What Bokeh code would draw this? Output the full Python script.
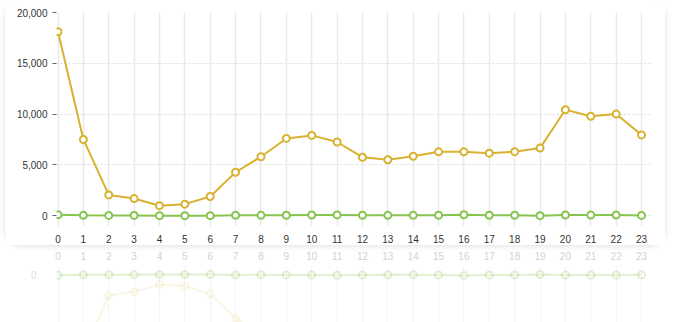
from bokeh.plotting import figure
from bokeh.layouts import column
from bokeh.models import Range1d, FixedTicker, NumeralTickFormatter, ColumnDataSource
from bokeh.embed import file_html
from bokeh.resources import INLINE

hours = list(range(24))
series_yellow = [18100, 7500, 2040, 1680, 980, 1130, 1880, 4270, 5800, 7600, 7900, 7250,
                 5750, 5500, 5850, 6280, 6280, 6150, 6300, 6650, 10420, 9780, 10000, 7950]
series_green = [80, 30, 20, 20, 0, 0, 0, 40, 30, 40, 60, 70,
                40, 30, 30, 40, 90, 40, 40, 0, 60, 50, 50, 20]
y_ticks = [0, 5000, 10000, 15000, 20000]

YELLOW = "#d8b230"
GREEN = "#86c44f"
FONT = "Liberation Sans"
FS = "10px"

src = ColumnDataSource(dict(x=hours, a=series_yellow, b=series_green))

x0, x1 = -0.06, 23.354

p = figure(width=660, height=245, x_range=Range1d(x0, x1), y_range=Range1d(-1070, 20000),
           output_backend="svg", toolbar_location=None,
           min_border_left=51, min_border_right=15, min_border_top=12, min_border_bottom=15,
           margin=(0, 0, 0, 5),
           styles={"border-radius": "16px", "box-shadow": "0 1px 6px rgba(0,0,0,0.13)"})
p.outline_line_color = None
p.background_fill_color = "white"
p.border_fill_color = "white"

p.xaxis.ticker = FixedTicker(ticks=hours)
p.xaxis.axis_line_color = None
p.xaxis.major_tick_line_color = None
p.xaxis.minor_tick_line_color = None
p.xaxis.major_label_standoff = 2
p.xaxis.major_label_text_font = FONT
p.xaxis.major_label_text_font_size = FS
p.xaxis.major_label_text_color = "#333333"

p.yaxis.ticker = FixedTicker(ticks=y_ticks)
p.yaxis.formatter = NumeralTickFormatter(format="0,0")
p.yaxis.axis_line_color = None
p.yaxis.major_tick_line_color = "#666666"
p.yaxis.major_tick_in = 0
p.yaxis.major_tick_out = 4
p.yaxis.minor_tick_line_color = None
p.yaxis.major_label_standoff = 5
p.yaxis.major_label_text_font = FONT
p.yaxis.major_label_text_font_size = FS
p.yaxis.major_label_text_color = "#333333"

p.xgrid.ticker = FixedTicker(ticks=hours)
p.xgrid.grid_line_color = "#e9e9e9"
p.xgrid.grid_line_width = 1.5
p.ygrid.ticker = FixedTicker(ticks=y_ticks)
p.ygrid.grid_line_color = "#dddddd"
p.ygrid.grid_line_dash = "2 2"

p.line("x", "a", source=src, color=YELLOW, line_width=2)
p.scatter("x", "a", source=src, size=7, fill_color="white", line_color=YELLOW, line_width=2)
p.line("x", "b", source=src, color=GREEN, line_width=2)
p.scatter("x", "b", source=src, size=7, fill_color="white", line_color=GREEN, line_width=2)

# reflection
r = figure(width=660, height=75, x_range=Range1d(x0, x1), y_range=Range1d(4660, -777),
           output_backend="svg", toolbar_location=None, x_axis_location="above",
           min_border_left=51, min_border_right=15, min_border_top=19, min_border_bottom=0,
           margin=(2, 0, 0, 5))
r.outline_line_color = None
r.background_fill_alpha = 0
r.border_fill_alpha = 0
r.xaxis.ticker = FixedTicker(ticks=hours)
r.xaxis.axis_line_color = None
r.xaxis.major_tick_line_color = None
r.xaxis.minor_tick_line_color = None
r.xaxis.major_label_standoff = 1
r.xaxis.major_label_text_font = FONT
r.xaxis.major_label_text_font_size = FS
r.xaxis.major_label_text_color = "#d2d2d2"
r.yaxis.ticker = FixedTicker(ticks=[0])
r.yaxis.axis_line_color = None
r.yaxis.major_tick_line_color = None
r.yaxis.minor_tick_line_color = None
r.yaxis.major_label_standoff = 14
r.yaxis.major_label_text_font = FONT
r.yaxis.major_label_text_font_size = FS
r.yaxis.major_label_text_color = "#dddddd"
r.xgrid.ticker = FixedTicker(ticks=hours)
r.xgrid.grid_line_color = "#f4f4f4"
r.xgrid.grid_line_width = 1
r.ygrid.grid_line_color = None

r.line("x", "a", source=src, color=YELLOW, line_width=2, alpha=0.12)
r.scatter("x", "a", source=src, size=7, fill_color="white", line_color=YELLOW, line_width=2, alpha=0.12)
r.line("x", "b", source=src, color=GREEN, line_width=2, alpha=0.25)
r.scatter("x", "b", source=src, size=7, fill_color="white", line_color=GREEN, line_width=2, alpha=0.25)

layout = column(p, r, spacing=0)
open("out.html", "w").write(file_html(layout, INLINE))
